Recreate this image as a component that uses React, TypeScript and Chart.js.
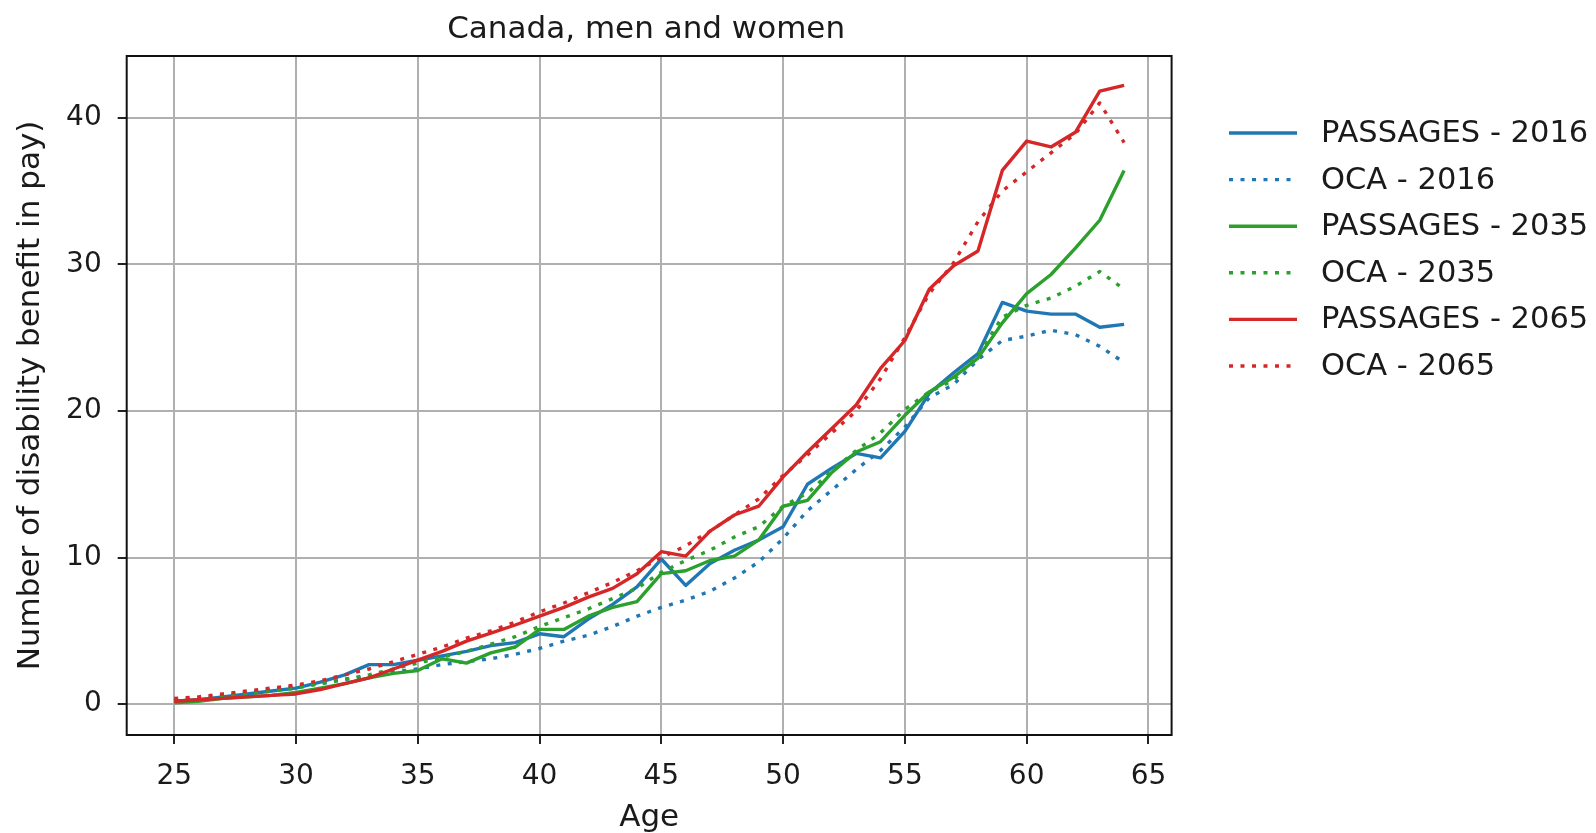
import React, { useEffect, useRef } from "react";
import { Chart, registerables } from "chart.js";

Chart.register(...registerables);

const TITLE = "Canada, men and women";
const X_LABEL = "Age";
const Y_LABEL = "Number of disability benefit in pay)";

const ages = [
  25, 26, 27, 28, 29, 30, 31, 32, 33, 34, 35, 36, 37, 38, 39, 40, 41, 42, 43, 44,
  45, 46, 47, 48, 49, 50, 51, 52, 53, 54, 55, 56, 57, 58, 59, 60, 61, 62, 63, 64,
];

const xTicks = [25, 30, 35, 40, 45, 50, 55, 60, 65];
const yTicks = [0, 10, 20, 30, 40];

const passages2016 = [
  0.2, 0.3, 0.5, 0.7, 0.9, 1.1, 1.5, 2.0, 2.7, 2.7, 3.0, 3.3, 3.6, 4.0, 4.2, 4.8, 4.6, 5.8, 6.8, 8.0,
  9.9, 8.1, 9.6, 10.5, 11.2, 12.1, 15.0, 16.1, 17.1, 16.8, 18.6, 21.2, 22.6, 23.9, 27.4, 26.8, 26.6, 26.6, 25.7, 25.9,
];
const oca2016 = [
  0.3, 0.4, 0.6, 0.8, 1.0, 1.2, 1.4, 1.7, 1.9, 2.2, 2.4, 2.7, 2.9, 3.1, 3.4, 3.8, 4.3, 4.7, 5.3, 6.0,
  6.6, 7.1, 7.7, 8.6, 9.7, 11.3, 13.2, 14.6, 16.0, 17.3, 18.9, 20.9, 21.8, 23.5, 24.8, 25.1, 25.5, 25.2, 24.4, 23.3,
];
const passages2035 = [
  0.1, 0.2, 0.4, 0.5, 0.6, 0.8, 1.1, 1.4, 1.8, 2.1, 2.3, 3.1, 2.8, 3.5, 3.9, 5.1, 5.1, 6.0, 6.6, 7.0,
  8.9, 9.1, 9.8, 10.1, 11.2, 13.5, 13.9, 15.8, 17.2, 17.9, 19.7, 21.3, 22.3, 23.6, 26.0, 28.0, 29.3, 31.1, 33.0, 36.4,
];
const oca2035 = [
  0.2, 0.3, 0.5, 0.7, 0.9, 1.1, 1.4, 1.7, 2.0, 2.4, 2.8, 3.2, 3.6, 4.1, 4.6, 5.3, 5.9, 6.5, 7.2, 7.9,
  9.0, 9.8, 10.5, 11.4, 12.1, 13.5, 14.4, 15.9, 17.3, 18.5, 20.1, 21.3, 22.1, 23.8, 26.4, 27.2, 27.7, 28.5, 29.5, 28.3,
];
const passages2065 = [
  0.2, 0.3, 0.4, 0.5, 0.6, 0.7, 1.0, 1.4, 1.8, 2.4, 3.0, 3.6, 4.3, 4.85, 5.4, 6.0, 6.6, 7.3, 7.9, 8.9,
  10.4, 10.1, 11.8, 12.9, 13.5, 15.5, 17.2, 18.8, 20.4, 22.9, 24.8, 28.3, 29.9, 30.9, 36.4, 38.4, 38.0, 39.0, 41.8, 42.2,
];
const oca2065 = [
  0.4, 0.5, 0.7, 0.9, 1.1, 1.3, 1.6, 2.0, 2.4, 2.9, 3.4, 3.9, 4.5, 5.0, 5.6, 6.3, 6.9, 7.6, 8.3, 9.1,
  10.0, 10.8, 11.8, 12.9, 14.0, 15.6, 17.0, 18.5, 20.0, 22.2, 25.0, 28.0, 30.1, 32.9, 35.0, 36.3, 37.6, 38.9, 41.0, 38.3,
];

const seriesNames = [
  "PASSAGES - 2016",
  "OCA - 2016",
  "PASSAGES - 2035",
  "OCA - 2035",
  "PASSAGES - 2065",
  "OCA - 2065",
];
const seriesValues = [passages2016, oca2016, passages2035, oca2035, passages2065, oca2065];
const seriesColors = ["#1f77b4", "#1f77b4", "#2ca02c", "#2ca02c", "#d62728", "#d62728"];
const seriesDotted = [false, true, false, true, false, true];

const FONT = "'DejaVu Sans', 'Liberation Sans', sans-serif";
const TEXT = "#1a1a1a";
const DOT_DASH = [4, 7.5];
const LINE_W = 3.4;

const W = 1596;
const H = 833;
const AREA = { left: 126.7, right: 1171.6, top: 56, bottom: 735 };

const decorPlugin = {
  id: "decor",
  afterDatasetsDraw(chart: any) {
    const ctx = chart.ctx;
    const a = chart.chartArea;
    ctx.save();
    // frame
    ctx.strokeStyle = "#111";
    ctx.lineWidth = 2;
    ctx.strokeRect(a.left, a.top, a.right - a.left, a.bottom - a.top);
    // title
    ctx.fillStyle = TEXT;
    ctx.font = `31px ${FONT}`;
    ctx.textAlign = "center";
    ctx.textBaseline = "alphabetic";
    ctx.fillText(TITLE, (a.left + a.right) / 2 - 3, 38);
    // legend
    const lx0 = 1229;
    const lx1 = 1297;
    const tx = 1321;
    const y0 = 133;
    const step = 46.6;
    ctx.font = `30.5px ${FONT}`;
    ctx.textAlign = "left";
    ctx.textBaseline = "middle";
    seriesNames.forEach((name, i) => {
      const y = y0 + i * step;
      ctx.beginPath();
      ctx.strokeStyle = seriesColors[i];
      ctx.lineWidth = LINE_W;
      ctx.setLineDash(seriesDotted[i] ? DOT_DASH : []);
      ctx.moveTo(lx0, y);
      ctx.lineTo(lx1, y);
      ctx.stroke();
      ctx.setLineDash([]);
      ctx.fillStyle = TEXT;
      ctx.fillText(name, tx, y + 1);
    });
    ctx.restore();
  },
};

export default function App() {
  const canvasRef = useRef<HTMLCanvasElement | null>(null);

  useEffect(() => {
    const canvas = canvasRef.current;
    if (!canvas) return;
    const datasets = seriesNames.map((name, i) => ({
      label: name,
      data: seriesValues[i].map((v, j) => ({ x: ages[j], y: v })),
      borderColor: seriesColors[i],
      backgroundColor: seriesColors[i],
      borderWidth: LINE_W,
      borderDash: seriesDotted[i] ? DOT_DASH : [],
      borderCapStyle: "butt",
      borderJoinStyle: "round",
      pointRadius: 0,
      tension: 0,
      fill: false,
      order: 10 - i,
    }));

    const chart = new Chart(canvas, {
      type: "line",
      data: { datasets } as any,
      options: {
        animation: false,
        responsive: false,
        devicePixelRatio: 1,
        layout: {
          padding: { left: 0, top: AREA.top, right: W - AREA.right, bottom: 0 },
        },
        plugins: {
          legend: { display: false },
          title: { display: false },
          tooltip: { enabled: false },
        },
        scales: {
          x: {
            type: "linear",
            min: 23.05,
            max: 65.95,
            afterBuildTicks: (axis: any) => {
              axis.ticks = xTicks.map((v) => ({ value: v }));
            },
            afterFit: (axis: any) => {
              axis.height = H - AREA.bottom;
            },
            grid: {
              color: "#b0b0b0",
              lineWidth: 2,
              drawTicks: true,
              tickLength: 9,
              tickColor: "#222",
              tickWidth: 2,
            },
            border: { display: false },
            ticks: {
              color: TEXT,
              font: { family: FONT, size: 28 },
              padding: 16,
              maxRotation: 0,
              autoSkip: false,
              callback: (v: any) => String(v),
            },
            title: {
              display: true,
              text: X_LABEL,
              color: TEXT,
              font: { family: FONT, size: 31, lineHeight: 1.0 },
              padding: { top: 0, bottom: 0 },
            },
          },
          y: {
            type: "linear",
            min: -2.1,
            max: 44.2,
            afterBuildTicks: (axis: any) => {
              axis.ticks = yTicks.map((v) => ({ value: v }));
            },
            afterFit: (axis: any) => {
              axis.width = AREA.left;
            },
            grid: {
              color: "#b0b0b0",
              lineWidth: 2,
              drawTicks: true,
              tickLength: 9,
              tickColor: "#222",
              tickWidth: 2,
            },
            border: { display: false },
            ticks: {
              color: TEXT,
              font: { family: FONT, size: 28 },
              padding: 16,
              autoSkip: false,
              callback: (v: any) => String(v),
            },
            title: {
              display: true,
              text: Y_LABEL,
              color: TEXT,
              font: { family: FONT, size: 31 },
              padding: { top: 12, bottom: 0 },
            },
          },
        },
      } as any,
      plugins: [decorPlugin],
    });

    return () => chart.destroy();
  }, []);

  return (
    <div style={{ position: "fixed", left: 0, top: 0, width: W, height: H, background: "#fff" }}>
      <canvas ref={canvasRef} width={W} height={H} style={{ display: "block", width: W, height: H }} />
    </div>
  );
}
